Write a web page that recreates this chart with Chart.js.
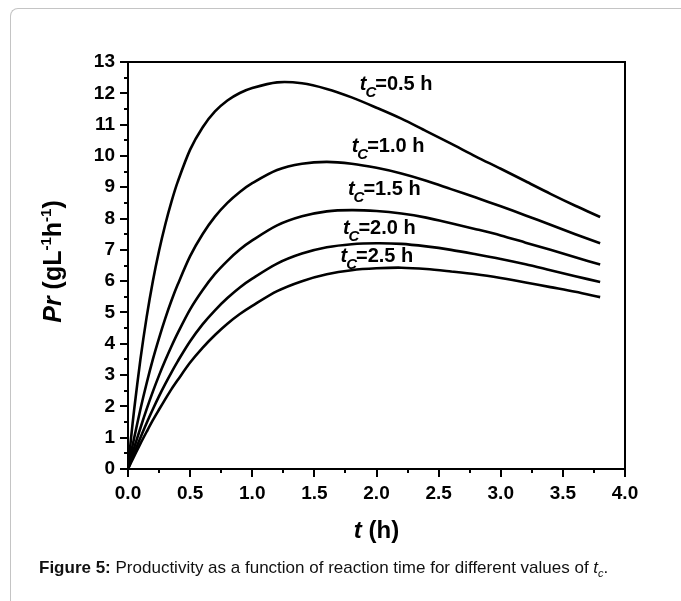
<!DOCTYPE html>
<html>
<head>
<meta charset="utf-8">
<script src="https://cdn.jsdelivr.net/npm/chart.js@4.4.1/dist/chart.umd.min.js"></script>
<style>
  html, body { margin: 0; padding: 0; background: #fff; }
  #wrap { position: relative; width: 681px; height: 601px; overflow: hidden; }
  #frame { position: absolute; left: 10px; top: 8px; width: 760px; height: 700px;
           border-top: 1px solid #c4c4c4; border-left: 1px solid #c4c4c4; border-top-left-radius: 8px; }
  #chart { position: absolute; left: 0; top: 0; }
  #caption { position: absolute; left: 39px; top: 558px; font: 17px 'Liberation Sans', Arial, sans-serif; color: #111; white-space: nowrap; }
  #caption sub { font-size: 11px; }
</style>
</head>
<body>
<div id="wrap">
  <div id="frame"></div>
  <canvas id="chart" width="681" height="601"></canvas>
  <div id="caption"><b>Figure 5:</b> Productivity as a function of reaction time for different values of <i>t</i><sub><i>c</i></sub>.</div>
</div>
<script>
// reaction time t (h)
var tVals = [0, 0.025, 0.05, 0.1, 0.15, 0.2, 0.25, 0.3, 0.35, 0.4, 0.5, 0.6, 0.7, 0.8, 0.9, 1.0, 1.2, 1.4, 1.6, 1.8, 2.0, 2.2, 2.4, 2.6, 2.8, 3.0, 3.2, 3.4, 3.6, 3.8];

// productivity Pr (g/L/h) for each tc
var pr05 = [0, 1.00, 1.91, 3.50, 4.85, 6.00, 6.97, 7.81, 8.54, 9.17, 10.20, 10.91, 11.42, 11.77, 12.01, 12.17, 12.35, 12.32, 12.14, 11.87, 11.54, 11.19, 10.79, 10.39, 9.98, 9.59, 9.19, 8.79, 8.41, 8.05];
var pr10 = [0, 0.52, 1.00, 1.91, 2.74, 3.50, 4.18, 4.81, 5.38, 5.89, 6.80, 7.50, 8.06, 8.50, 8.85, 9.13, 9.55, 9.75, 9.81, 9.75, 9.62, 9.44, 9.21, 8.94, 8.67, 8.39, 8.10, 7.80, 7.50, 7.21];
var pr15 = [0, 0.35, 0.68, 1.31, 1.91, 2.47, 2.99, 3.47, 3.92, 4.34, 5.10, 5.71, 6.23, 6.65, 7.01, 7.30, 7.78, 8.07, 8.23, 8.27, 8.24, 8.16, 8.03, 7.85, 7.66, 7.46, 7.23, 7.00, 6.76, 6.53];
var pr20 = [0, 0.26, 0.51, 1.00, 1.47, 1.91, 2.33, 2.72, 3.09, 3.44, 4.08, 4.62, 5.07, 5.46, 5.80, 6.08, 6.56, 6.88, 7.08, 7.18, 7.21, 7.19, 7.11, 7.00, 6.86, 6.71, 6.54, 6.35, 6.16, 5.97];
var pr25 = [0, 0.21, 0.41, 0.81, 1.19, 1.56, 1.90, 2.23, 2.55, 2.84, 3.40, 3.87, 4.28, 4.64, 4.95, 5.21, 5.68, 6.00, 6.22, 6.35, 6.41, 6.43, 6.39, 6.31, 6.22, 6.10, 5.96, 5.81, 5.66, 5.49];

// curve labels: text after "tc", and where they sit (data coords of left/baseline)
var labelText = ['=0.5 h', '=1.0 h', '=1.5 h', '=2.0 h', '=2.5 h'];
var labelT = [1.865, 1.80, 1.77, 1.73, 1.71];
var labelV = [12.1, 10.13, 8.75, 7.52, 6.62];

var FONT = "'Liberation Sans', Arial, sans-serif";

function pts(ys) {
  return tVals.map(function (t, i) { return {x: t, y: ys[i]}; });
}

function series(ys) {
  return {
    data: pts(ys),
    borderColor: '#000',
    borderWidth: 2.6,
    pointRadius: 0,
    fill: false,
    tension: 0.3
  };
}

// draw a row of differently styled pieces, starting at x (baseline y)
function drawRuns(ctx, runs, x, y) {
  runs.forEach(function (r) {
    ctx.font = r.font;
    ctx.fillText(r.text, x + (r.dx || 0), y + (r.dy || 0));
    x += ctx.measureText(r.text).width + (r.dx || 0);
  });
}
function runsWidth(ctx, runs) {
  var w = 0;
  runs.forEach(function (r) { ctx.font = r.font; w += ctx.measureText(r.text).width + (r.dx || 0); });
  return w;
}

var decor = {
  id: 'decor',
  afterDraw: function (chart) {
    var ctx = chart.ctx, a = chart.chartArea, x = chart.scales.x, y = chart.scales.y;
    ctx.save();
    ctx.strokeStyle = '#000';
    ctx.fillStyle = '#000';
    ctx.lineWidth = 2;

    // top + right frame
    ctx.beginPath();
    ctx.moveTo(a.left - 1, a.top);
    ctx.lineTo(a.right, a.top);
    ctx.lineTo(a.right, a.bottom);
    ctx.stroke();

    // minor ticks
    ctx.beginPath();
    for (var v = 0.25; v < 4; v += 0.5) {
      var px = Math.round(x.getPixelForValue(v));
      ctx.moveTo(px, a.bottom);
      ctx.lineTo(px, a.bottom + 4);
    }
    for (var w = 0.5; w < 13; w += 1) {
      var py = Math.round(y.getPixelForValue(w));
      ctx.moveTo(a.left, py);
      ctx.lineTo(a.left - 4, py);
    }
    ctx.stroke();

    // curve labels
    ctx.textBaseline = 'alphabetic';
    ctx.textAlign = 'left';
    for (var i = 0; i < labelText.length; i++) {
      drawRuns(ctx, [
        {text: 't', font: 'italic bold 20px ' + FONT},
        {text: 'C', font: 'italic bold 15px ' + FONT, dy: 7, dx: -1},
        {text: labelText[i], font: 'bold 20px ' + FONT, dx: -1}
      ], x.getPixelForValue(labelT[i]), y.getPixelForValue(labelV[i]));
    }

    // x title
    var xr = [
      {text: 't', font: 'italic bold 24px ' + FONT},
      {text: ' (h)', font: 'bold 24px ' + FONT}
    ];
    drawRuns(ctx, xr, (a.left + a.right) / 2 - runsWidth(ctx, xr) / 2, 538);

    // y title
    var yr = [
      {text: 'Pr', font: 'italic bold 25px ' + FONT},
      {text: ' (gL', font: 'bold 25px ' + FONT},
      {text: '-1', font: 'bold 15px ' + FONT, dy: -10},
      {text: 'h', font: 'bold 25px ' + FONT},
      {text: '-1', font: 'bold 15px ' + FONT, dy: -10},
      {text: ')', font: 'bold 25px ' + FONT}
    ];
    ctx.translate(61, (a.top + a.bottom) / 2 - 4);
    ctx.rotate(-Math.PI / 2);
    drawRuns(ctx, yr, -runsWidth(ctx, yr) / 2, 0);
    ctx.restore();
  }
};

new Chart(document.getElementById('chart'), {
  type: 'line',
  data: {
    datasets: [series(pr05), series(pr10), series(pr15), series(pr20), series(pr25)]
  },
  options: {
    responsive: false,
    animation: false,
    layout: {padding: {left: 0, right: 56, top: 62, bottom: 72}},
    plugins: {legend: {display: false}, tooltip: {enabled: false}},
    scales: {
      x: {
        type: 'linear',
        min: 0,
        max: 4,
        afterFit: function (s) { s.height = 60; },
        grid: {drawOnChartArea: false, drawTicks: true, tickLength: 8, color: '#000', lineWidth: 2},
        border: {display: true, color: '#000', width: 2},
        ticks: {
          stepSize: 0.5,
          padding: 5,
          color: '#000',
          maxRotation: 0,
          font: {family: FONT, size: 19, weight: 'bold'},
          callback: function (v) { return v.toFixed(1); }
        }
      },
      y: {
        min: 0,
        max: 13,
        afterFit: function (s) { s.width = 128; },
        grid: {drawOnChartArea: false, drawTicks: true, tickLength: 8, color: '#000', lineWidth: 2},
        border: {display: true, color: '#000', width: 2},
        ticks: {
          stepSize: 1,
          padding: 5,
          color: '#000',
          font: {family: FONT, size: 19, weight: 'bold'}
        }
      }
    }
  },
  plugins: [decor]
});
</script>
</body>
</html>
